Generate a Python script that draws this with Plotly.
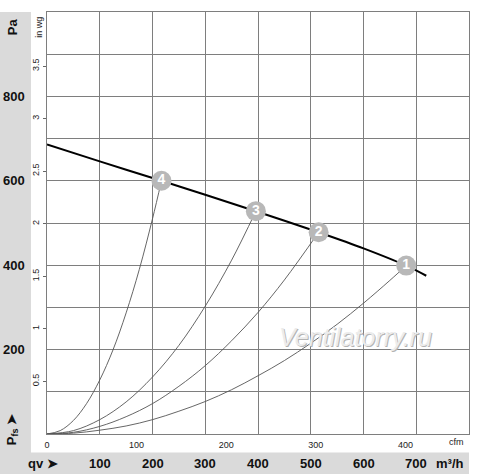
import plotly.graph_objects as go

# fan curve (m3/h, Pa)
fan_flow = [0, 100, 217, 300, 396, 515, 600, 681, 719]
fan_pa = [686, 646, 600, 567, 528, 478, 440, 399, 375]

# operating points
op_flow = [681, 515, 396, 217]
op_pa = [399, 478, 528, 600]
op_labels = ["1", "2", "3", "4"]

# system curves
sys1_flow = [0, 50, 100, 150, 200, 250, 300, 350, 400, 450, 500, 550, 600, 650, 681]
sys1_pa = [0, 2, 9, 19, 34, 54, 77, 105, 138, 174, 215, 260, 310, 364, 399]
sys2_flow = [0, 50, 100, 150, 200, 250, 300, 350, 400, 450, 515]
sys2_pa = [0, 4, 18, 41, 72, 113, 162, 221, 288, 365, 478]
sys3_flow = [0, 50, 100, 150, 200, 250, 300, 350, 396]
sys3_pa = [0, 8, 34, 76, 135, 210, 303, 412, 528]
sys4_flow = [0, 25, 50, 75, 100, 125, 150, 175, 200, 217]
sys4_pa = [0, 8, 32, 72, 128, 199, 287, 390, 510, 600]

m3h_ticks = [100, 200, 300, 400, 500, 600, 700]
pa_ticks = [200, 400, 600, 800]
cfm_ticks = [0, 100, 200, 300, 400]
inwg_ticks = [0.5, 1, 1.5, 2, 2.5, 3, 3.5]

FONT = "Liberation Sans, Arial, sans-serif"
GRID = "#7e7e7e"
BAND = "#dadada"

fig = go.Figure()

for fx, fy in [(sys1_flow, sys1_pa), (sys2_flow, sys2_pa),
               (sys3_flow, sys3_pa), (sys4_flow, sys4_pa)]:
    fig.add_trace(go.Scatter(x=fx, y=fy, mode="lines", line_shape="spline",
                             line=dict(color="#555555", width=0.9), hoverinfo="skip"))

fig.add_trace(go.Scatter(x=fan_flow, y=fan_pa, mode="lines", line_shape="spline",
                         line=dict(color="black", width=2)))

fig.add_trace(go.Scatter(x=op_flow, y=op_pa, mode="markers+text",
                         text=[f"<b>{t}</b>" for t in op_labels],
                         textposition="middle center",
                         marker=dict(size=20, color="#b8b8b8"),
                         textfont=dict(family=FONT, size=14, color="white")))

# invisible trace so the secondary (cfm / in wg) axes get drawn
fig.add_trace(go.Scatter(x=[0], y=[0], xaxis="x2", yaxis="y2", mode="markers",
                         marker=dict(opacity=0), hoverinfo="skip"))

fig.update_layout(
    width=500, height=475,
    margin=dict(l=47, r=31, t=12, b=41),
    paper_bgcolor="white", plot_bgcolor="white",
    showlegend=False,
    font=dict(family=FONT, color="#222222"),
    xaxis=dict(range=[0, 800], dtick=100, showgrid=True, gridcolor=GRID, gridwidth=1,
               showticklabels=False, zeroline=False, showline=True, linecolor=GRID,
               mirror=True, ticks=""),
    yaxis=dict(range=[0, 1000], dtick=100, showgrid=True, gridcolor=GRID, gridwidth=1,
               showticklabels=False, zeroline=False, showline=True, linecolor=GRID,
               mirror=True, ticks=""),
    xaxis2=dict(overlaying="x", side="bottom", anchor="y", range=[0, 800 / 1.699],
                tickvals=cfm_ticks, showgrid=False, zeroline=False, showline=False,
                ticks="outside", ticklen=2, tickcolor="white",
                tickfont=dict(size=9, color="#222")),
    yaxis2=dict(overlaying="y", side="left", anchor="x", range=[0, 1000 / 249.09],
                tickvals=inwg_ticks, ticktext=[f"{v:g}" for v in inwg_ticks],
                tickangle=-90, showgrid=False, zeroline=False, showline=False,
                ticks="outside", ticklen=3, tickcolor="#666",
                tickfont=dict(size=9, color="#222")),
)

# grey bands
fig.add_shape(type="rect", xref="paper", yref="paper", x0=-0.112, x1=-0.038,
              y0=-0.095, y1=1.0, fillcolor=BAND, line_width=0, layer="below")
fig.add_shape(type="rect", xref="paper", yref="paper", x0=-0.112, x1=1.0,
              y0=-0.095, y1=-0.044, fillcolor=BAND, line_width=0, layer="below")


def label(x, y, text, font, xref="paper", yref="paper", angle=0):
    fig.add_annotation(x=x, y=y, xref=xref, yref=yref, text=text, textangle=angle,
                       showarrow=False, font=font, xanchor="center", yanchor="middle")


bold = dict(family=FONT, size=13, color="#111")
small = dict(family=FONT, size=9, color="#222")
for v in m3h_ticks:
    label(v, -0.071, f"<b>{v}</b>", bold, xref="x")
for v in pa_ticks:
    label(-0.079, v, f"<b>{v}</b>", bold, yref="y")

label(-0.082, 0.965, "<b>Pa</b>", bold, angle=-90)
label(-0.082, 0.01, "<b>P<sub>fs</sub> ➤</b>", bold, angle=-90)
label(-0.01, -0.071, "<b>qv ➤</b>", bold)
label(0.955, -0.071, "<b>m³/h</b>", bold)
label(-0.019, 0.965, "in wg", small, angle=-90)
label(0.97, -0.019, "cfm", small)

# watermark
label(0.734, 0.228, "<i>Ventilatorry.ru</i>", dict(family=FONT, size=25, color="#b4b4b4"))
label(0.732, 0.230, "<i>Ventilatorry.ru</i>", dict(family=FONT, size=25, color="#ececec"))

# no page margin so the figure sits at the window's top-left corner
fig.write_html("out.html", config={"displayModeBar": False},
               post_script="document.body.style.margin = '0';")
